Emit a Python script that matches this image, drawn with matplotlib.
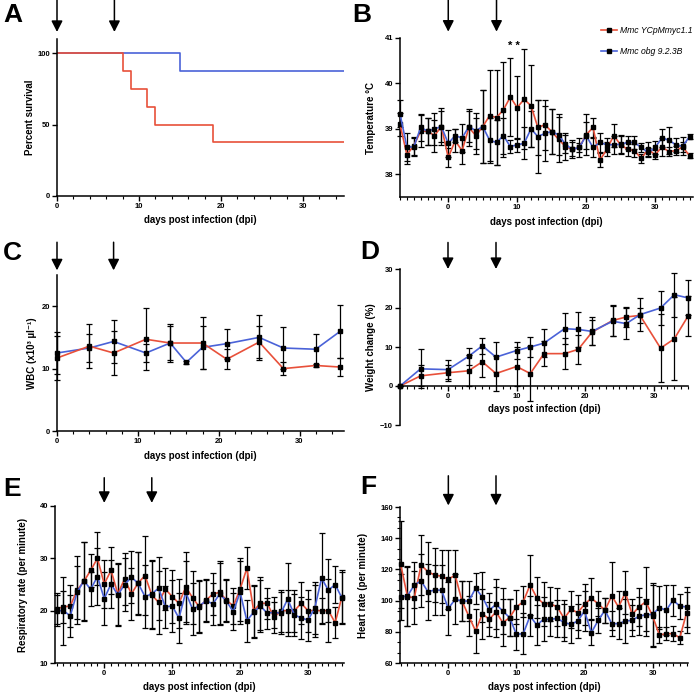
import matplotlib
matplotlib.use("Agg")
import matplotlib.pyplot as plt
from matplotlib.ticker import MultipleLocator, AutoMinorLocator

plt.rcParams.update({
    "font.family": ["Liberation Sans", "DejaVu Sans"],
    "font.weight": "bold",
    "axes.labelweight": "bold",
    "axes.linewidth": 1.1,
    "xtick.major.width": 1.0,
    "ytick.major.width": 1.0,
    "xtick.minor.width": 0.8,
    "ytick.minor.width": 0.8,
    "xtick.major.size": 3.5,
    "ytick.major.size": 3.5,
    "xtick.minor.size": 2.0,
    "ytick.minor.size": 2.0,
    "xtick.labelsize": 5.5,
    "ytick.labelsize": 5.5,
    "axes.labelsize": 7,
})

RED = "#e8503a"
BLUE = "#4a62d8"

# ── A: survival ─────────────────────────────────────────────────────────────
surv_red_t = [0, 8, 9, 11, 12, 19, 35]
surv_red = [100, 87.5, 75, 62.5, 50, 37.5, 37.5]
surv_blue_t = [0, 15, 35]
surv_blue = [100, 87.5, 87.5]

# ── B, E, F: daily measurements ─────────────────────────────────────────────
days = list(range(-7, 36))

temp_red = [39.1, 38.43, 38.63, 38.95, 38.95, 38.85, 39.05, 38.37, 38.74, 38.52,
            39.03, 38.85, 39.05, 39.29, 39.25, 39.42, 39.7, 39.47, 39.65, 39.51,
            39.03, 39.09, 38.94, 38.77, 38.61, 38.55, 38.59, 38.87, 39.03, 38.31,
            38.55, 38.85, 38.65, 38.55, 38.52, 38.35, 38.55, 38.43, 38.6, 38.5,
            38.52, 38.6, 38.41]
temp_blue = [39.33, 38.6, 38.6, 39.03, 38.95, 39.0, 39.05, 38.68, 38.85, 38.8,
             39.05, 38.96, 39.05, 38.75, 38.7, 38.85, 38.61, 38.65, 38.68, 39.0,
             38.83, 38.9, 38.94, 38.87, 38.66, 38.55, 38.59, 38.85, 38.59, 38.7,
             38.65, 38.65, 38.66, 38.7, 38.7, 38.59, 38.48, 38.59, 38.8, 38.75,
             38.65, 38.62, 38.83]
temp_red_err = [0.25, 0.2, 0.2, 0.35, 0.3, 0.35, 0.35, 0.2, 0.25, 0.3,
                0.4, 0.4, 0.8, 1.0, 1.05, 1.05, 0.85, 0.7, 1.1, 0.9,
                0.6, 0.55, 0.5, 0.5, 0.3, 0.2, 0.2, 0.45, 0.2, 0.15,
                0.15, 0.25, 0.2, 0.15, 0.15, 0.1, 0.15, 0.1, 0.2, 0.1,
                0.1, 0.1, 0.05]
temp_blue_err = [0.3, 0.3, 0.2, 0.3, 0.3, 0.35, 0.4, 0.3, 0.15, 0.3,
                 0.35, 0.4, 0.8, 0.5, 0.5, 0.4, 0.15, 0.15, 0.35, 0.4,
                 0.8, 0.6, 0.5, 0.45, 0.2, 0.15, 0.1, 0.3, 0.2, 0.2,
                 0.15, 0.2, 0.2, 0.15, 0.15, 0.1, 0.1, 0.15, 0.2, 0.3,
                 0.15, 0.2, 0.05]

resp_red = [20.4, 20.7, 20.9, 23.9, 25.6, 27.7, 30.0, 25.1, 27.7, 23.2,
            26.1, 23.2, 25.3, 26.7, 23.0, 21.6, 24.1, 22.7, 21.4, 24.5,
            22.5, 20.7, 22.0, 23.2, 23.5, 22.0, 20.9, 24.1, 28.1, 20.0,
            21.4, 21.4, 18.7, 20.0, 20.0, 20.0, 21.4, 20.0, 20.0, 20.0,
            20.0, 17.7, 22.7]
resp_blue = [20.0, 20.0, 19.0, 23.5, 25.7, 24.1, 26.5, 22.3, 25.1, 23.0,
             25.0, 26.4, 25.2, 22.7, 23.2, 24.3, 20.7, 20.9, 18.6, 23.5,
             20.3, 20.9, 21.9, 21.3, 23.2, 21.8, 19.8, 23.5, 18.1, 19.7,
             20.9, 19.5, 19.7, 19.5, 22.2, 19.2, 18.6, 18.2, 20.5, 26.2,
             23.9, 25.0, 22.4]
resp_red_err = [3, 3, 4, 6.5, 7.5, 3.2, 5, 4.5, 4.5, 6,
                5, 5, 6, 7.5, 6.5, 6, 4, 5, 4.7, 6.7,
                5, 5, 4, 4, 6, 4, 3.5, 6, 4, 5,
                5, 3, 3, 4, 4, 4, 4, 4, 5, 2.5,
                6, 3, 5]
resp_blue_err = [3, 6.5, 4, 5, 7.5, 3.2, 5.5, 5, 4.5, 6,
                 5, 5, 6, 6, 6.5, 6, 4, 5, 4.7, 6,
                 5, 5, 4, 4, 6, 4, 3.5, 6, 4, 5,
                 5, 3, 3, 4, 7, 4, 4, 4, 5, 8.6,
                 6, 3.6, 5]

heart_red = [123.2, 102.5, 101.9, 122.8, 118.5, 116.4, 115.6, 113.6, 116.4, 99.7,
             90.1, 80.5, 91.6, 88.0, 92.7, 85.9, 89.1, 95.9, 99.3, 110.0,
             101.9, 98.0, 98.0, 95.9, 88.6, 94.4, 92.3, 97.6, 101.5, 98.0,
             93.8, 103.0, 95.9, 105.1, 91.2, 95.9, 99.3, 90.1, 77.9, 78.8,
             78.8, 76.2, 92.3]
heart_blue = [102.3, 103.0, 110.0, 112.6, 105.7, 106.8, 106.6, 95.0, 100.8, 99.7,
              99.7, 107.9, 102.3, 93.8, 97.6, 93.3, 89.1, 78.4, 78.8, 90.1,
              84.4, 88.0, 88.0, 88.6, 85.9, 84.8, 86.9, 93.3, 79.4, 87.3,
              93.8, 85.2, 85.2, 86.9, 87.3, 90.1, 90.8, 91.2, 95.5, 93.8,
              100.2, 96.5, 95.9]
heart_red_err = [28, 19, 17, 19, 19, 17, 17, 19, 16, 13,
                 13, 14, 16, 11, 16, 15, 12, 11, 10, 19,
                 13, 14, 11, 12, 12, 12, 11, 13, 13, 8,
                 8, 22, 10, 14, 10, 12, 22, 20, 5, 4,
                 5, 4, 13]
heart_blue_err = [15, 19, 15, 17, 18, 16, 16, 17, 16, 13,
                  13, 10, 16, 11, 16, 15, 12, 10, 13, 13,
                  13, 14, 11, 12, 12, 12, 11, 13, 8, 8,
                  8, 8, 10, 14, 10, 12, 10, 20, 14, 16,
                  10, 8, 13]

# ── C: WBC ──────────────────────────────────────────────────────────────────
wbc_days_blue = [0, 4, 7, 11, 14, 16, 18, 21, 25, 28, 32, 35]
wbc_blue = [12.5, 13.3, 14.35, 12.5, 14.1, 11.0, 13.4, 14.0, 15.0, 13.3, 13.1, 15.95]
wbc_blue_err = [3.4, 2.3, 3.4, 1.4, 2.8, 0.2, 3.4, 2.4, 3.6, 3.3, 2.5, 4.2]
wbc_days_red = [0, 4, 7, 11, 14, 18, 21, 25, 28, 32, 35]
wbc_red = [11.7, 13.6, 12.5, 14.7, 14.1, 14.1, 11.5, 14.25, 10.0, 10.5, 10.25]
wbc_red_err = [3.6, 3.5, 3.6, 5.0, 3.1, 4.1, 1.6, 2.6, 1.1, 0.2, 1.4]

# ── D: weight change ───────────────────────────────────────────────────────
wt_days = [-7, -4, 0, 3, 5, 7, 10, 12, 14, 17, 19, 21, 24, 26, 28, 31, 33, 35]
wt_blue = [0, 4.4, 4.2, 7.6, 10.3, 7.4, 9.1, 10.0, 11.0, 14.7, 14.5, 14.0,
           16.6, 16.0, 18.3, 20.0, 23.4, 22.6]
wt_blue_err = [0, 5.0, 2.5, 2.2, 2.1, 3.8, 2.1, 2.5, 3.5, 3.9, 4.4, 3.6,
               3.9, 4.0, 4.3, 4.3, 5.6, 4.5]
wt_red = [0, 2.6, 3.4, 3.9, 6.2, 3.2, 5.0, 3.2, 8.3, 8.3, 9.4, 13.8,
          16.8, 17.7, 18.1, 9.7, 12.1, 17.9]
wt_red_err = [0, 2.7, 2.0, 4.0, 3.9, 4.4, 4.9, 7.0, 3.2, 3.9, 3.7, 3.2,
              4.0, 2.5, 2.0, 8.7, 10.6, 5.1]

dose_days = [0, 7]

W, H = 696, 695
fig = plt.figure(figsize=(W / 100, H / 100), dpi=100)


def px_axes(l, r, t, b):
    return fig.add_axes([l / W, 1 - b / H, (r - l) / W, (b - t) / H])


def style(ax, ylabel, ylabel_pad, xlabel=True):
    ax.spines["top"].set_visible(False)
    ax.spines["right"].set_visible(False)
    ax.tick_params(which="both", direction="out", pad=1.5)
    ax.set_ylabel(ylabel, labelpad=ylabel_pad)
    if xlabel:
        ax.set_xlabel("days post infection (dpi)", labelpad=4)


def arrows(ax, tip, start):
    for d in dose_days:
        ax.annotate("", xy=(d, tip), xytext=(d, start),
                    xycoords=("data", "axes fraction"),
                    textcoords=("data", "axes fraction"),
                    annotation_clip=False,
                    arrowprops=dict(arrowstyle="-|>,head_length=0.55,head_width=0.28",
                                    lw=1.1, color="k", mutation_scale=12,
                                    shrinkA=0, shrinkB=0))


def series(ax, x, y, err, color):
    ax.errorbar(x, y, yerr=err, fmt="none", ecolor="k", elinewidth=0.9,
                capsize=2.0, capthick=0.9, zorder=2, clip_on=False)
    return ax.plot(x, y, color=color, lw=1.2, marker="s", ms=3.2,
                   mfc="k", mec="k", zorder=3, clip_on=False)[0]


# A
axA = px_axes(57, 344, 39, 196)
axA.step(surv_blue_t, surv_blue, where="post", color=BLUE, lw=1.2)
axA.step(surv_red_t, surv_red, where="post", color=RED, lw=1.2)
axA.set_xlim(0, 35)
axA.set_ylim(0, 110)
axA.xaxis.set_major_locator(MultipleLocator(10))
axA.xaxis.set_minor_locator(MultipleLocator(2))
axA.set_yticks([0, 50, 100])
style(axA, "Percent survival", 2)
arrows(axA, 1.045, 1.25)

# B
axB = px_axes(400, 693, 38, 197)
lr = series(axB, days, temp_red, temp_red_err, RED)
lb = series(axB, days, temp_blue, temp_blue_err, BLUE)
axB.set_xlim(-7, 35.5)
axB.set_ylim(37.5, 41)
axB.xaxis.set_major_locator(MultipleLocator(10))
axB.xaxis.set_minor_locator(MultipleLocator(1))
axB.set_yticks([38, 39, 40, 41])
axB.text(9.5, 40.83, "* *", ha="center", va="center", fontsize=8)
style(axB, "Temperature °C", 6)
arrows(axB, 1.04, 1.24)
axB.legend([lr, lb], ["Mmc YCpMmyc1.1", "Mmc obg 9.2.3B"],
           loc="upper left", bbox_to_anchor=(601 / W, 1 - 26 / H),
           bbox_transform=fig.transFigure, frameon=False,
           prop=dict(style="italic", size=6.2, weight="normal"),
           handlelength=1.9, handletextpad=0.3, labelspacing=1.35,
           borderaxespad=0, borderpad=0)

# C
axC = px_axes(57, 344, 275, 431)
series(axC, wbc_days_blue, wbc_blue, wbc_blue_err, BLUE)
series(axC, wbc_days_red, wbc_red, wbc_red_err, RED)
axC.set_xlim(0, 35.5)
axC.set_ylim(0, 25)
axC.xaxis.set_major_locator(MultipleLocator(10))
axC.xaxis.set_minor_locator(MultipleLocator(2))
axC.set_yticks([0, 10, 20])
style(axC, "WBC (x10³ µl⁻¹)", 3)
arrows(axC, 1.03, 1.21)

# D
axD = px_axes(400, 688, 269, 425)
series(axD, wt_days, wt_red, wt_red_err, RED)
series(axD, wt_days, wt_blue, wt_blue_err, BLUE)
axD.set_xlim(-7, 35)
axD.set_ylim(-10, 30)
axD.spines["bottom"].set_position(("data", 0))
axD.xaxis.set_major_locator(MultipleLocator(10))
axD.xaxis.set_minor_locator(MultipleLocator(1))
axD.set_yticks([-10, 0, 10, 20, 30])
style(axD, "Weight change (%)", 3)
axD.xaxis.set_label_coords(0.5, 0.135)
arrows(axD, 1.0, 1.17)

# E
axE = px_axes(55, 344, 506, 663)
series(axE, days, resp_red, resp_red_err, RED)
series(axE, days, resp_blue, resp_blue_err, BLUE)
axE.set_xlim(-7.25, 35.3)
axE.set_ylim(10, 40)
axE.xaxis.set_major_locator(MultipleLocator(10))
axE.xaxis.set_minor_locator(MultipleLocator(1))
axE.set_yticks([10, 20, 30, 40])
style(axE, "Respiratory rate (per minute)", 8)
arrows(axE, 1.02, 1.18)

# F
axF = px_axes(400, 688, 507, 663)
series(axF, days, heart_red, heart_red_err, RED)
series(axF, days, heart_blue, heart_blue_err, BLUE)
axF.set_xlim(-7.1, 35.2)
axF.set_ylim(60, 160)
axF.xaxis.set_major_locator(MultipleLocator(10))
axF.xaxis.set_minor_locator(MultipleLocator(1))
axF.set_yticks([60, 80, 100, 120, 140, 160])
axF.yaxis.set_minor_locator(AutoMinorLocator(3))
style(axF, "Heart rate (per minute)", 9)
arrows(axF, 1.01, 1.2)

# panel letters
for letter, x, y in [("A", 3, 3), ("B", 352, 3), ("C", 3, 241), ("D", 360, 240),
                     ("E", 3, 477), ("F", 360, 475)]:
    fig.text(x / W, 1 - y / H, letter, fontsize=19, fontweight="bold",
             ha="left", va="top")

fig.savefig("out.png", dpi=100)
